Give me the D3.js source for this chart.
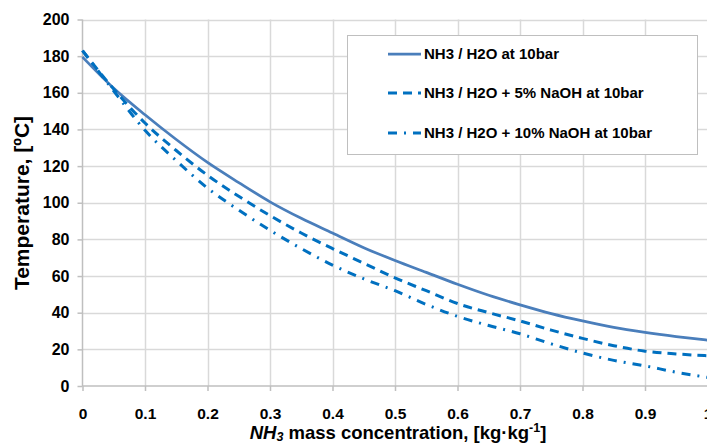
<!DOCTYPE html>
<html><head><meta charset="utf-8">
<script src="https://cdn.jsdelivr.net/npm/d3@7"></script>
<style>
html,body{margin:0;padding:0;background:#fff;overflow:hidden}
svg{display:block;font-family:"Liberation Sans",Arial,sans-serif;font-weight:bold}
</style></head><body>
<script>
const xValues = [0,0.05,0.1,0.15,0.2,0.25,0.3,0.35,0.4,0.45,0.5,0.55,0.6,0.65,0.7,0.75,0.8,0.85,0.9,0.95,1.0];
const tPure   = [179.5,162.5,148,134.5,122,111,100.5,91.5,83.5,75.5,68.5,62,55.5,49.5,44.3,39.5,35.5,32,29.3,27,25];
const tNaOH5  = [183,162,143.5,128.5,115,103.5,93,83.5,75,67,59,52,45,40,35.5,30.5,26,22,19,17.5,16.5];
const tNaOH10 = [183,161,139.5,123,108,96,85,75,66,58.5,52,44.5,38,33,28.5,23,18,14,11,7.5,4.7];
const seriesNames = ["NH3 / H2O at 10bar","NH3 / H2O + 5% NaOH at 10bar","NH3 / H2O + 10% NaOH at 10bar"];
const xTicks = [0,0.1,0.2,0.3,0.4,0.5,0.6,0.7,0.8,0.9,1];
const yTicks = [0,20,40,60,80,100,120,140,160,180,200];

const W=707,H=443;
const svg=d3.select("body").append("svg").attr("width",W).attr("height",H);
const x=d3.scaleLinear().domain([0,1]).range([82.5,707.5]);
const y=d3.scaleLinear().domain([0,200]).range([386,19.5]);

// gridlines
svg.append("g").selectAll("line.h").data(yTicks.filter(d=>d>0)).join("line")
 .attr("x1",x(0)).attr("x2",x(1)).attr("y1",d=>Math.round(y(d))+0.5).attr("y2",d=>Math.round(y(d))+0.5)
 .attr("stroke","#d9d9d9").attr("stroke-width",1.5);
svg.append("g").selectAll("line.v").data(xTicks.filter(d=>d>0)).join("line")
 .attr("y1",y(0)).attr("y2",y(200)).attr("x1",d=>Math.round(x(d))+0.5).attr("x2",d=>Math.round(x(d))+0.5)
 .attr("stroke","#d9d9d9").attr("stroke-width",1.5);

// axes
const yAxis=d3.axisLeft(y).tickValues(yTicks).tickSize(5).tickPadding(8).tickFormat(d3.format("d"));
const gy=svg.append("g").attr("transform",`translate(${x(0)},0)`).call(yAxis);
const xAxis=d3.axisBottom(x).tickValues(xTicks).tickSize(5).tickPadding(18).tickFormat(d=>d===0||d===1?String(d):d3.format(".1f")(d));
const gx=svg.append("g").attr("transform",`translate(0,${y(0)})`).call(xAxis);
[gx,gy].forEach(g=>{
  g.select(".domain").attr("stroke","#bfbfbf").attr("stroke-width",1.5);
  g.selectAll(".tick line").attr("stroke","#bfbfbf").attr("stroke-width",1.5);
  g.selectAll("text").attr("font-size",16).attr("font-weight","bold").attr("fill","#000").attr("font-family","Liberation Sans, Arial, sans-serif");
});
gx.selectAll(".tick text").attr("dy",null).attr("y",33).attr("font-size",15.5);
gx.select(".domain").attr("d",`M${x(0)},0H${x(1)}`);
gy.select(".domain").attr("d",`M0,${y(0)}V${y(200)}`);

// lines
const mk=arr=>xValues.map((v,i)=>[v,arr[i]]);
const line=d3.line().x(d=>x(d[0])).y(d=>y(d[1])).curve(d3.curveMonotoneX);
const styles=[
 {data:tPure,color:"#4a7ebb",w:2.75,dash:null},
 {data:tNaOH5,color:"#0070c0",w:3,dash:"9,6"},
 {data:tNaOH10,color:"#0070c0",w:3,dash:"9,7,2,7"}
];
styles.forEach(s=>{
 svg.append("path").datum(mk(s.data)).attr("d",line).attr("fill","none")
  .attr("stroke",s.color).attr("stroke-width",s.w).attr("stroke-dasharray",s.dash);
});

// legend
const lg=svg.append("g");
lg.append("rect").attr("x",347.5).attr("y",35.5).attr("width",350).attr("height",119)
 .attr("fill","#fff").attr("stroke","#bfbfbf").attr("stroke-width",1);
const rowsY=[54,93,133];
seriesNames.forEach((n,i)=>{
 const s=styles[i];
 lg.append("line").attr("x1",388).attr("x2",421).attr("y1",rowsY[i]).attr("y2",rowsY[i])
  .attr("stroke",s.color).attr("stroke-width",s.w).attr("stroke-dasharray",s.dash);
 lg.append("text").attr("x",424).attr("y",rowsY[i]).attr("dy","0.35em")
  .attr("font-size",15).text(n);
});

// axis titles
svg.append("text").attr("transform",`translate(28.5,203) rotate(-90)`).attr("text-anchor","middle")
 .attr("font-size",21).text("Temperature, [ºC]");
const xt=svg.append("text").attr("x",398).attr("y",439).attr("text-anchor","middle").attr("font-size",18.5);
xt.append("tspan").attr("font-style","italic").text("NH");
xt.append("tspan").attr("font-style","italic").attr("font-size",12.5).attr("dy",2).text("3");
xt.append("tspan").attr("dy",-2).text(" mass concentration, [kg·kg");
xt.append("tspan").attr("font-size",12.5).attr("dy",-7).text("-1");
xt.append("tspan").attr("dy",7).text("]");
</script>
</body></html>
